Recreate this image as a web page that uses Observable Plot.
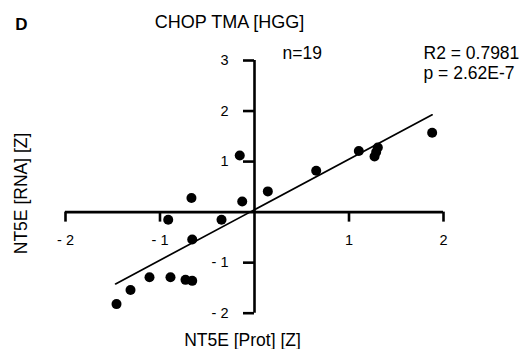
<!DOCTYPE html>
<html>
<head>
<meta charset="utf-8">
<script src="https://cdn.jsdelivr.net/npm/d3@7"></script>
<script src="https://cdn.jsdelivr.net/npm/@observablehq/plot@0.6"></script>
<style>
  html, body { margin: 0; padding: 0; background: #fff; }
  svg { display: block; }
</style>
</head>
<body>
<div id="chart"></div>
<script>
// Data
const protZ = [-0.156, -0.667, 0.141, -0.130, -0.913, -0.349, -0.659, -1.111, -0.889, -0.730,
               -0.659, -1.312, -1.460, 0.653, 1.104, 1.305, 1.270, 1.288, 1.880];
const rnaZ  = [1.12, 0.28, 0.41, 0.21, -0.15, -0.15, -0.54, -1.29, -1.29, -1.34,
               -1.36, -1.54, -1.82, 0.82, 1.21, 1.28, 1.10, 1.19, 1.57];
const fitX = [-1.47, 1.88];
const fitY = [-1.42, 1.925];
const xTicks = [-2, -1, 1, 2];
const xTickLabels = ["- 2", "- 1", "1", "2"];
const yTicks = [-2, -1, 1, 2, 3];
const yTickLabels = ["- 2", "- 1", "1", "2", "3"];
const panelLabel = "D";
const title = "CHOP TMA [HGG]";
const nLabel = "n=19";
const r2Label = "R2 = 0.7981";
const pLabel = "p = 2.62E-7";
const xLabel = "NT5E [Prot] [Z]";
const yLabel = "NT5E [RNA] [Z]";

const points = protZ.map((x, i) => ({x, y: rnaZ[i]}));
const fit = fitX.map((x, i) => ({x, y: fitY[i]}));

const font = "'Liberation Sans', Arial, Helvetica, sans-serif";

const chart = Plot.plot({
  width: 520,
  height: 349,
  marginLeft: 65,
  marginRight: 77,
  marginTop: 60,
  marginBottom: 36.3,
  style: {fontFamily: font, background: "#fff", overflow: "visible"},
  x: {domain: [-2, 2], axis: null},
  y: {domain: [-2, 3], axis: null},
  marks: [
    // axes through the origin
    Plot.ruleY([0], {x1: xTicks[0], x2: xTicks[xTicks.length - 1], stroke: "#000", strokeWidth: 2.6}),
    Plot.ruleX([0], {y1: yTicks[0], y2: yTicks[yTicks.length - 1], stroke: "#000", strokeWidth: 2.6}),
    Plot.ruleX(xTicks, {x: d => d, y1: 0, y2: 0, insetBottom: -10, stroke: "#000", strokeWidth: 2.6}),
    Plot.ruleY(yTicks, {y: d => d, x1: 0, x2: 0, insetLeft: -11, stroke: "#000", strokeWidth: 2.6}),
    Plot.text(xTicks, {x: d => d, y: 0, text: (d, i) => xTickLabels[i], dy: 28, fontSize: 14.5, fill: "#000"}),
    Plot.text(yTicks, {x: 0, y: d => d, text: (d, i) => yTickLabels[i], dx: -26, textAnchor: "end", fontSize: 14.5, fill: "#000"}),
    // regression line
    Plot.line(fit, {x: "x", y: "y", stroke: "#000", strokeWidth: 1.7}),
    // points
    Plot.dot(points, {x: "x", y: "y", r: 5, fill: "#000", stroke: "none"}),
    // annotations
    Plot.text([panelLabel], {frameAnchor: "top-left", lineAnchor: "middle", dx: -44, dy: -36, fontSize: 17, fontWeight: "bold", textAnchor: "middle", fill: "#000"}),
    Plot.text([title], {frameAnchor: "top", lineAnchor: "middle", textAnchor: "middle", dx: -25, dy: -38, fontSize: 18, fill: "#000"}),
    Plot.text([nLabel], {frameAnchor: "top-left", lineAnchor: "middle", dx: 217, dy: -7, textAnchor: "start", fontSize: 17.5, fill: "#000"}),
    Plot.text([r2Label], {frameAnchor: "top-left", lineAnchor: "middle", dx: 358, dy: -7, textAnchor: "start", fontSize: 17.5, fill: "#000"}),
    Plot.text([pLabel], {frameAnchor: "top-left", lineAnchor: "middle", dx: 358, dy: 13, textAnchor: "start", fontSize: 17.5, fill: "#000"}),
    Plot.text([xLabel], {frameAnchor: "bottom", lineAnchor: "middle", textAnchor: "middle", dx: -12, dy: 27, fontSize: 17.5, fill: "#000"}),
    Plot.text([yLabel], {frameAnchor: "left", lineAnchor: "middle", textAnchor: "middle", dx: -44, dy: 6.6, rotate: -90, fontSize: 17.5, fill: "#000"})
  ]
});
document.getElementById("chart").appendChild(chart);
</script>
</body>
</html>
